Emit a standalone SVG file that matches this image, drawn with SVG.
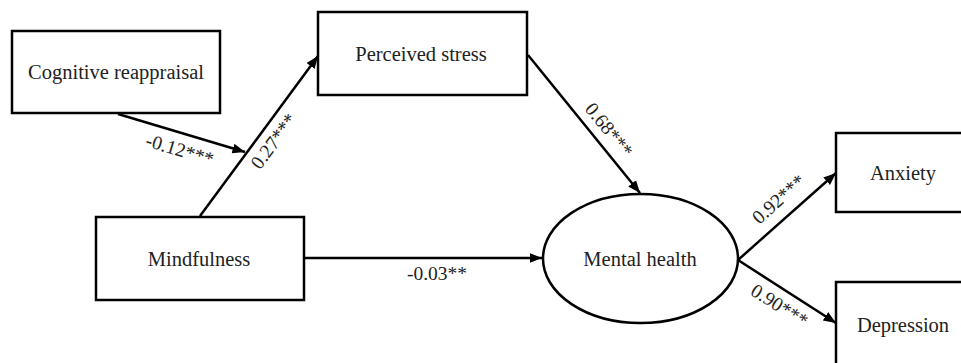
<svg xmlns="http://www.w3.org/2000/svg" width="961" height="363" viewBox="0 0 961 363">
<defs>
<marker id="ah" viewBox="0 0 10 10" refX="10" refY="5" markerWidth="5" markerHeight="5" orient="auto" markerUnits="strokeWidth">
<path d="M0,1 L10,5 L0,9 z" fill="#000"/>
</marker>
</defs>
<style>
.box{fill:#fff;stroke:#000;stroke-width:2.5}
.lbl{font-family:"Liberation Serif","Times New Roman",serif;font-size:20.5px;fill:#222;text-anchor:middle}
.coef{font-family:"Liberation Serif","Times New Roman",serif;font-size:19.5px;fill:#222;text-anchor:middle}
.edge{stroke:#000;stroke-width:2.5;fill:none;marker-end:url(#ah)}
</style>
<rect width="961" height="363" fill="#fff"/>
<g id="connectors">
<line class="edge" x1="118" y1="114" x2="245" y2="152"/>
<line class="edge" x1="200" y1="216" x2="318" y2="56"/>
<line class="edge" x1="528" y1="55" x2="640" y2="193"/>
<line class="edge" x1="304" y1="258" x2="542" y2="258"/>
<line class="edge" x1="738" y1="260" x2="836" y2="173"/>
<line class="edge" x1="738" y1="260" x2="836" y2="323"/>
<text class="coef" transform="translate(178,156) rotate(16.7)">-0.12***</text>
<text class="coef" transform="translate(279,145) rotate(-53.4)">0.27***</text>
<text class="coef" transform="translate(604,134) rotate(51)">0.68***</text>
<text class="coef" x="437" y="280">-0.03**</text>
<text class="coef" transform="translate(783,204) rotate(-41.6)">0.92***</text>
<text class="coef" transform="translate(776,311) rotate(32.7)">0.90***</text>
</g>
<g id="cognitive-reappraisal">
<rect class="box" x="12" y="31" width="208" height="82"/>
<text class="lbl" x="116" y="79">Cognitive reappraisal</text>
</g>
<g id="perceived-stress">
<rect class="box" x="318" y="12" width="209" height="83"/>
<text class="lbl" x="421" y="61">Perceived stress</text>
</g>
<g id="mindfulness">
<rect class="box" x="96" y="217" width="208" height="83"/>
<text class="lbl" x="199" y="266">Mindfulness</text>
</g>
<g id="mental-health">
<ellipse class="box" cx="640.5" cy="258.5" rx="97.5" ry="64.5"/>
<text class="lbl" x="640" y="266">Mental health</text>
</g>
<g id="anxiety">
<rect class="box" x="836" y="133" width="130" height="79"/>
<text class="lbl" x="903" y="180">Anxiety</text>
</g>
<g id="depression">
<rect class="box" x="836" y="282" width="130" height="90"/>
<text class="lbl" x="903" y="332">Depression</text>
</g>
</svg>
